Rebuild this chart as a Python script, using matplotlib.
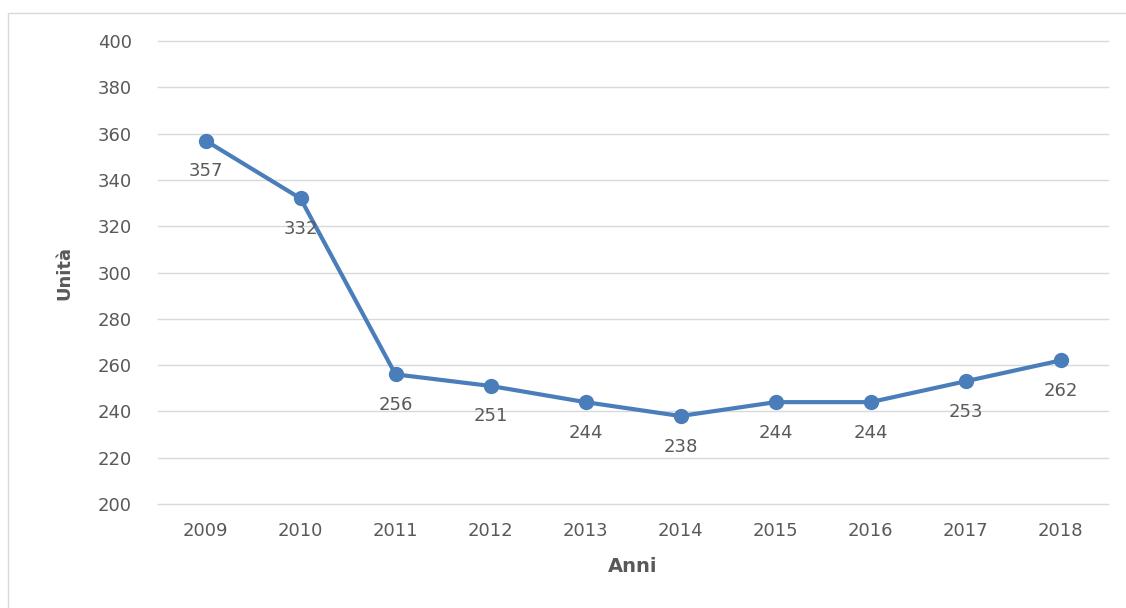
import matplotlib.pyplot as plt
from matplotlib.patches import Rectangle

# Dati
anni = ["2009", "2010", "2011", "2012", "2013", "2014", "2015", "2016", "2017", "2018"]
unita = [357, 332, 256, 251, 244, 238, 244, 244, 253, 262]
y_ticks = [200, 220, 240, 260, 280, 300, 320, 340, 360, 380, 400]

blu = "#4a7ebb"
grigio = "#595959"

fig = plt.figure(figsize=(11.26, 6.08), dpi=100)
# cornice del grafico
fig.patches.append(Rectangle((8 / 1126, -0.05), 1.1, 1 - 13 / 608 + 0.05,
                             transform=fig.transFigure, fill=False,
                             edgecolor="#d9d9d9", linewidth=1))
ax = fig.add_axes([158 / 1126, 1 - 504 / 608, 950 / 1126, 463 / 608])

x = range(len(anni))
ax.plot(x, unita, color=blu, linewidth=3, marker="o", markersize=10, zorder=3)
for xi, v in zip(x, unita):
    ax.annotate(str(v), (xi, v), xytext=(0, -22), textcoords="offset points",
                ha="center", va="center", fontsize=13, color=grigio)

ax.set_xlim(-0.5, len(anni) - 0.5)
ax.set_ylim(200, 400)
ax.set_yticks(y_ticks)
ax.set_xticks(list(x))
ax.set_xticklabels(anni)
ax.tick_params(length=0, labelsize=13, labelcolor=grigio, pad=13)
ax.tick_params(axis="y", pad=19)
ax.grid(axis="y", color="#d9d9d9", linewidth=1)
for gl in ax.get_ygridlines():
    gl.set_clip_on(False)
ax.set_axisbelow(True)
for s in ax.spines.values():
    s.set_visible(False)

ax.set_xlabel("Anni", fontsize=14, fontweight="bold", color=grigio, labelpad=12)
ax.set_ylabel("Unità", fontsize=13, fontweight="bold", color=grigio, labelpad=17)

plt.savefig("out.png", dpi=100)
